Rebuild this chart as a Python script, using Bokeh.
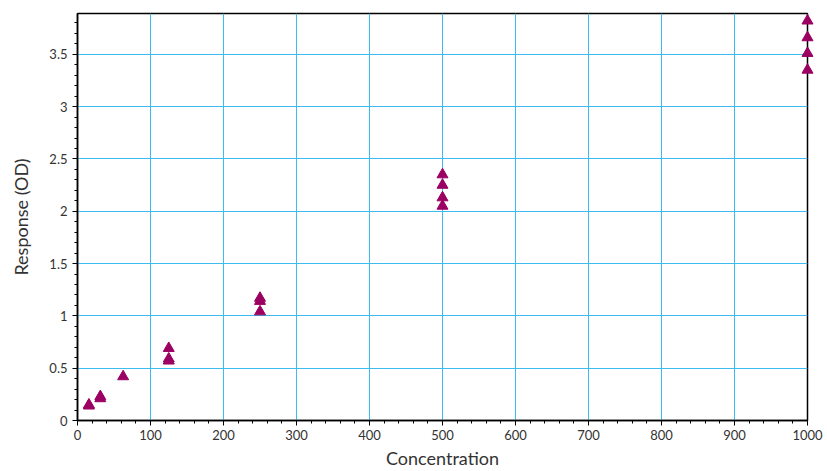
from bokeh.plotting import figure
from bokeh.models import Range1d, SingleIntervalTicker, ColumnDataSource
from bokeh.embed import file_html
from bokeh.resources import INLINE

# Data
concentration = [15.625, 15.625, 31.25, 31.25, 62.5,
                 125, 125, 125,
                 250, 250, 250,
                 500, 500, 500, 500,
                 1000, 1000, 1000, 1000]
response = [0.14, 0.15, 0.21, 0.23, 0.42,
            0.69, 0.59, 0.57,
            1.17, 1.14, 1.04,
            2.35, 2.25, 2.13, 2.05,
            3.82, 3.66, 3.51, 3.35]

x_label = "Concentration"
y_label = "Response (OD)"

src = ColumnDataSource(dict(x=concentration, y=response))

FONT = "Lato"
GRID = "#3cbcf0"

p = figure(width=823, height=463, output_backend="svg", toolbar_location=None,
           x_range=Range1d(0, 1000), y_range=Range1d(0, 3.89),
           frame_width=730, frame_height=407,
           min_border_left=77, min_border_right=16, min_border_top=13, min_border_bottom=43)

p.xaxis.ticker = SingleIntervalTicker(interval=100, num_minor_ticks=5)
p.yaxis.ticker = SingleIntervalTicker(interval=0.5, num_minor_ticks=5)

for ax in (p.xaxis[0], p.yaxis[0]):
    ax.axis_line_color = "black"
    ax.axis_line_width = 1.5
    ax.major_tick_line_color = "black"
    ax.minor_tick_line_color = "black"
    ax.major_tick_out = 5
    ax.major_tick_in = 0
    ax.minor_tick_out = 3
    ax.minor_tick_in = 0
    ax.major_label_text_font = FONT
    ax.major_label_text_font_size = "13px"
    ax.major_label_text_color = "#333333"
    ax.axis_label_text_font = FONT
    ax.axis_label_text_font_size = "18px"
    ax.axis_label_text_font_style = "normal"
    ax.axis_label_text_color = "#333333"

p.xaxis.axis_label = x_label
p.yaxis.axis_label = y_label
p.xaxis.axis_label_standoff = 4
p.xaxis.major_label_standoff = 4
p.yaxis.axis_label_standoff = 14

p.xgrid.grid_line_color = GRID
p.ygrid.grid_line_color = GRID
p.xgrid.grid_line_width = 1
p.ygrid.grid_line_width = 1

p.outline_line_color = "black"
p.outline_line_width = 1.5
p.outline_line_alpha = 1

r = p.scatter("x", "y", source=src, marker="triangle", size=11,
              fill_color="#9b0062", line_color="#9b0062")
r.level = "overlay"

open("out.html", "w").write(file_html(p, INLINE))
